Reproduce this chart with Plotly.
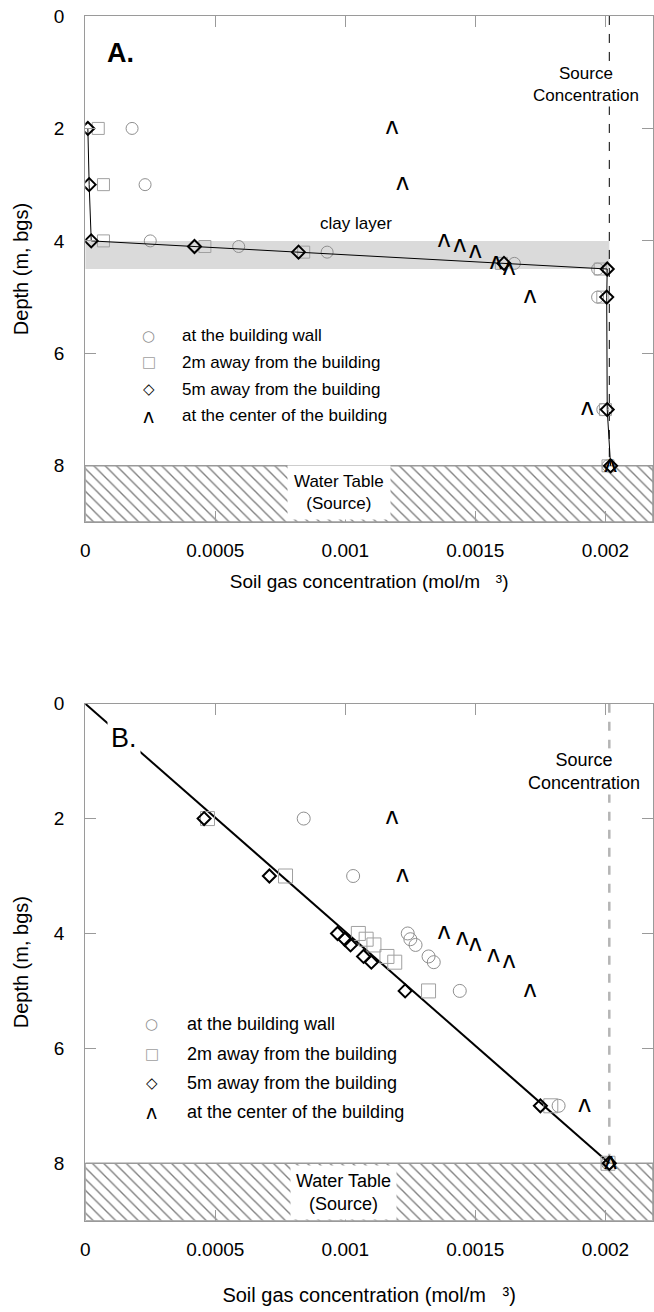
import plotly.graph_objects as go

W, H = 654, 1312

# ---------------- data ----------------
depth = [2, 3, 4, 4.1, 4.2, 4.4, 4.5, 5, 7, 8]

# Panel A (with clay layer)
wall_A = [0.00018, 0.00023, 0.00025, 0.00059, 0.00093, 0.00165, 0.00197, 0.00197, 0.00199, 0.00201]
two_m_A = [0.00005, 0.00007, 0.00007, 0.00046, 0.00084, 0.00160, 0.00198, 0.00199, 0.00200, 0.00201]
five_m_A = [0.00001, 0.000015, 0.000023, 0.00042, 0.00082, 0.00161, 0.002007, 0.002005, 0.002007, 0.00202]
center_A = [0.00118, 0.00122, 0.00138, 0.00144, 0.00150, 0.00158, 0.00163, 0.00171, 0.00193, 0.00202]

# Panel B (no clay layer)
wall_B = [0.00084, 0.00103, 0.00124, 0.00125, 0.00127, 0.00132, 0.00134, 0.00144, 0.00182, 0.00201]
two_m_B = [0.00047, 0.00077, 0.00105, 0.00108, 0.00111, 0.00116, 0.00119, 0.00132, 0.00179, 0.00201]
five_m_B = [0.000457, 0.000708, 0.00097, 0.000998, 0.00102, 0.00107, 0.00110, 0.00123, 0.00175, 0.002015]
center_B = [0.00118, 0.00122, 0.00138, 0.00145, 0.00150, 0.00157, 0.00163, 0.00171, 0.00192, 0.00202]

source_conc = 0.002015
water_table = 8
depth_max = 9
clay_top, clay_bottom = 4.0, 4.5
model_B_x = [0, source_conc]
model_B_y = [0, water_table]

x_max = 0.002183
x_ticks = [0, 0.0005, 0.001, 0.0015, 0.002]
x_ticktext = ["0", "0.0005", "0.001", "0.0015", "0.002"]
y_ticks = [0, 2, 4, 6, 8]

legend_labels = ["at the building wall", "2m away from the building",
                 "5m away from the building", "at the center of the building"]

FONT = "Liberation Sans, Arial, sans-serif"
SYMFONT = "DejaVu Sans"
GRAY_C = "#8f8f8f"
GRAY_S = "#a0a0a0"
CARET = "ʌ"


def px(x):
    return x / W


def py(y):
    return 1 - y / H


fig = go.Figure()

panels = [
    dict(xa="x", ya="y", wall=wall_A, two=two_m_A, five=five_m_A, center=center_A,
         five_mode="lines+markers", src_color="black", src_width=1,
         msize=(12, 12, 10), cfs=23),
    dict(xa="x2", ya="y2", wall=wall_B, two=two_m_B, five=five_m_B, center=center_B,
         five_mode="markers", src_color="#b5b5b5", src_width=2.5,
         msize=(13, 14, 10), cfs=23),
]

for i, p in enumerate(panels):
    xa, ya = p["xa"], p["ya"]
    # water table hatch
    fig.add_trace(go.Scatter(
        x=[0, x_max, x_max, 0, 0],
        y=[water_table, water_table, depth_max, depth_max, water_table],
        mode="lines", fill="toself", fillcolor="white",
        fillpattern=dict(shape="\\", fgcolor="black", bgcolor="white", size=8, solidity=0.17),
        line=dict(color="#9a9a9a", width=1.5),
        xaxis=xa, yaxis=ya, showlegend=False, hoverinfo="skip"))
    # source concentration line
    fig.add_trace(go.Scatter(
        x=[source_conc, source_conc], y=[0, water_table], mode="lines",
        line=dict(color=p["src_color"], width=p["src_width"], dash="dash"),
        xaxis=xa, yaxis=ya, showlegend=False, hoverinfo="skip"))
    if i == 1:
        fig.add_trace(go.Scatter(
            x=model_B_x, y=model_B_y, mode="lines",
            line=dict(color="black", width=2),
            xaxis=xa, yaxis=ya, showlegend=False, hoverinfo="skip"))
    fig.add_trace(go.Scatter(
        x=p["wall"], y=depth, mode="markers", name=legend_labels[0],
        marker=dict(symbol="circle-open", size=p["msize"][0], color=GRAY_C, line=dict(width=1)),
        xaxis=xa, yaxis=ya, showlegend=False))
    fig.add_trace(go.Scatter(
        x=p["two"], y=depth, mode="markers", name=legend_labels[1],
        marker=dict(symbol="square-open", size=p["msize"][1], color=GRAY_S, line=dict(width=1)),
        xaxis=xa, yaxis=ya, showlegend=False))
    fig.add_trace(go.Scatter(
        x=p["five"], y=depth, mode=p["five_mode"], name=legend_labels[2],
        line=dict(color="black", width=1),
        marker=dict(symbol="diamond-open", size=p["msize"][2], color="black", line=dict(width=2)),
        xaxis=xa, yaxis=ya, showlegend=False))
    fig.add_trace(go.Scatter(
        x=p["center"], y=depth, mode="text", name=legend_labels[3],
        text=[CARET] * len(depth), textposition="middle center",
        textfont=dict(family=SYMFONT, size=p["cfs"], color="black", weight="normal"),
        xaxis=xa, yaxis=ya, showlegend=False))

# clay layer band (panel A)
shapes = [dict(type="rect", xref="x", yref="y", x0=0, x1=source_conc, y0=clay_top, y1=clay_bottom,
               fillcolor="#dadada", line=dict(width=0), layer="below")]

axis_common = dict(
    showline=True, linecolor="#9a9a9a", linewidth=1.2, mirror="ticks",
    ticks="inside", ticklen=11, tickcolor="#9a9a9a", tickwidth=1,
    showgrid=False, zeroline=False,
    tickfont=dict(family=FONT, size=19, color="black"),
)

xtitle = "Soil gas concentration (mol/m   ³)"
ytitle = "Depth (m, bgs)"
LEFT = 81

fig.update_layout(
    width=W, height=H, margin=dict(l=0, r=0, t=0, b=0),
    paper_bgcolor="white", plot_bgcolor="white",
    showlegend=False, shapes=shapes,
    xaxis=dict(domain=[px(LEFT), 1], range=[0, x_max], anchor="y",
               tickvals=x_ticks, ticktext=x_ticktext, ticklabelstandoff=11,
               title=dict(text=xtitle, font=dict(family=FONT, size=19, color="black"), standoff=14),
               **axis_common),
    yaxis=dict(domain=[py(516), py(6)], range=[depth_max, 0], anchor="x",
               tickvals=y_ticks, ticklabelstandoff=16,
               title=dict(text=ytitle, font=dict(family=FONT, size=20, color="black"), standoff=19),
               **axis_common),
    xaxis2=dict(domain=[px(LEFT), 1], range=[0, x_max], anchor="y2",
                tickvals=x_ticks, ticktext=x_ticktext, ticklabelstandoff=11,
                title=dict(text=xtitle, font=dict(family=FONT, size=20, color="black"), standoff=29),
                **axis_common),
    yaxis2=dict(domain=[py(1220), py(699)], range=[depth_max, 0], anchor="x2",
                tickvals=y_ticks, ticklabelstandoff=16,
                title=dict(text=ytitle, font=dict(family=FONT, size=20, color="black"), standoff=19),
                **axis_common),
)

ann = []


def add_text(text, x, y, size, **kw):
    d = dict(text=text, x=px(x), y=py(y), xref="paper", yref="paper", showarrow=False,
             font=dict(family=kw.pop("family", FONT), size=size, color=kw.pop("color", "black"),
                       weight=kw.pop("weight", "normal")),
             xanchor=kw.pop("xanchor", "center"), yanchor=kw.pop("yanchor", "middle"))
    d.update(kw)
    ann.append(d)


add_text("A.", 117, 43, 27, weight="bold")
add_text("B.", 120, 734, 27, bgcolor="white", borderpad=3)
add_text("clay layer", 354, 215, 17)
add_text("Source<br>Concentration", 586, 75, 17, bgcolor="white", borderpad=1)
add_text("Source<br>Concentration", 584, 767, 18, bgcolor="white", borderpad=1)
add_text("Water Table<br>(Source)", 337, 486, 17, bgcolor="white", borderpad=6)
add_text("Water Table<br>(Source)", 342, 1192, 18, bgcolor="white", borderpad=5)

legend_syms = [("○", GRAY_C, "normal", 15), ("□", GRAY_S, "normal", 15),
               ("◇", "black", "bold", 15), (CARET, "black", "normal", 19)]

for rows, sx, tx, fs in [([328, 355, 382, 409], 145, 177, 17),
                          ([1022, 1052, 1081, 1110], 148, 182, 18)]:
    for (sym, col, wt, ss), lab, ry in zip(legend_syms, legend_labels, rows):
        add_text(sym, sx, ry, ss, family=SYMFONT, color=col, weight=wt)
        add_text(lab, tx, ry, fs, xanchor="left")

fig.update_layout(annotations=ann)

fig.write_html("out.html")
